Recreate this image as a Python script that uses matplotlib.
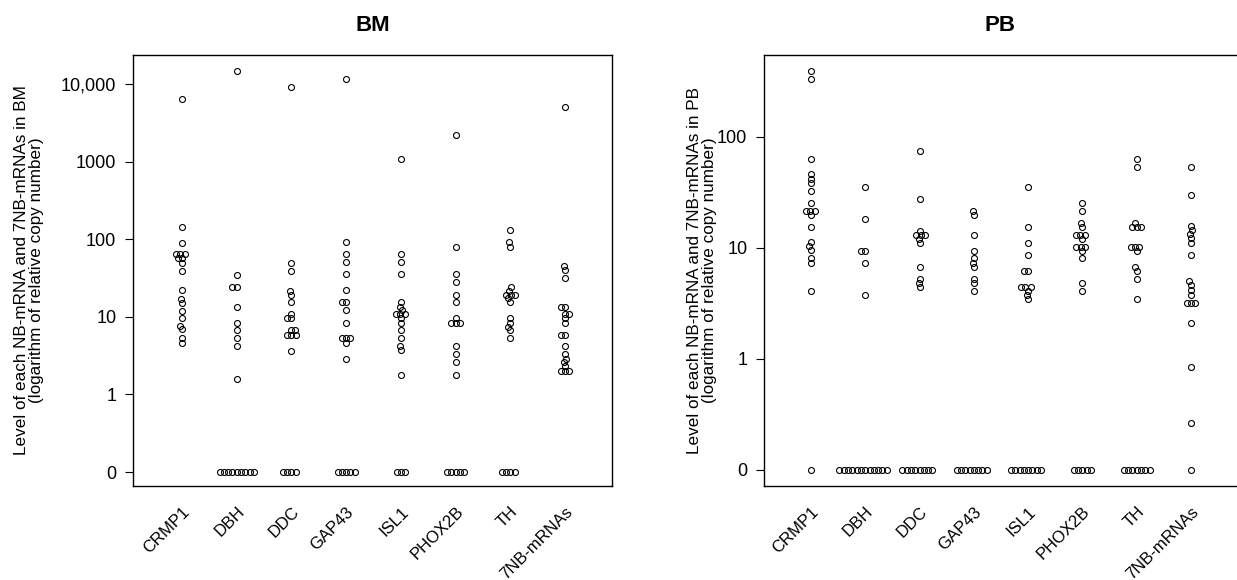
import numpy as np
import matplotlib
matplotlib.use('Agg')
import matplotlib.pyplot as plt

plt.rcParams['font.family'] = ['Liberation Sans', 'DejaVu Sans']

genes = ['CRMP1', 'DBH', 'DDC', 'GAP43', 'ISL1', 'PHOX2B', 'TH', '7NB-mRNAs']

# BM values (relative copy number, 0 = not detected)
bm_crmp1 = [6460, 146, 91, 64, 64, 64, 57, 57, 50, 39, 22, 17, 15, 12, 9.7, 7.7, 6.9, 5.4, 4.6]
bm_dbh = [14860, 35, 24.5, 24.5, 13.5, 8.4, 6.7, 5.3, 4.2, 1.6] + [0] * 9
bm_ddc = [9330, 50, 39.4, 21.8, 19.3, 15.4, 10.9, 9.6, 9.6, 6.7, 6.7, 5.9, 5.9, 5.9, 3.66] + [0] * 4
bm_gap43 = [11830, 91.5, 64, 50.5, 35.4, 22.2, 15.4, 15.4, 12.2, 8.4, 5.3, 5.3, 5.3, 4.6, 2.9] + [0] * 5
bm_isl1 = [1088, 64, 50.5, 35.4, 15.4, 13.5, 12.2, 10.9, 10.9, 10.9, 9.6, 8.4, 6.7, 5.3, 4.2, 3.7, 1.8] + [0] * 3
bm_phox2b = [2240, 80, 35.4, 27.9, 19.3, 15.4, 9.6, 8.4, 8.4, 8.4, 4.2, 3.3, 2.6, 1.8] + [0] * 5
bm_th = [131, 91.5, 80.7, 24.5, 21.8, 19.3, 19.3, 19.3, 17.3, 15.4, 9.6, 8.4, 7.5, 6.7, 5.3] + [0] * 4
bm_7nb = [5150, 44.9, 39.8, 31.4, 13.5, 13.5, 10.9, 10.9, 9.6, 8.4, 5.9, 5.9, 4.2, 3.3, 2.9, 2.6, 2.3, 2.0, 2.0, 2.0]

# PB values
pb_crmp1 = [392, 333, 63, 45.8, 41.9, 38.3, 32.5, 25.3, 21.4, 21.4, 21.4, 19.6, 15.4, 11.2, 10.3, 9.5, 8.0, 7.3, 4.1, 0]
pb_dbh = [35.3, 18.2, 9.3, 9.3, 7.3, 3.74] + [0] * 12
pb_ddc = [74.3, 27.5, 14.2, 13.0, 13.0, 13.0, 12.0, 11.0, 6.7, 5.25, 4.8, 4.4] + [0] * 8
pb_gap43 = [21.4, 19.6, 13.0, 9.4, 8.0, 7.3, 6.7, 5.25, 4.8, 4.1] + [0] * 8
pb_isl1 = [35.3, 15.4, 11.0, 8.6, 6.2, 6.2, 4.4, 4.4, 4.4, 4.1, 3.77, 3.47] + [0] * 8
pb_phox2b = [25.3, 21.4, 16.7, 15.4, 13.0, 13.0, 13.0, 12.0, 10.2, 10.2, 10.2, 9.4, 8.0, 4.8, 4.1] + [0] * 5
pb_th = [63, 53.3, 16.7, 15.4, 15.4, 15.4, 10.2, 10.2, 10.2, 9.4, 6.7, 6.2, 5.25, 3.47] + [0] * 7
pb_7nb = [53.3, 29.9, 15.8, 14.5, 13.4, 12.3, 11.0, 8.6, 4.96, 4.6, 4.2, 3.77, 3.19, 3.19, 3.19, 2.1, 0.84, 0.26, 0]

bm_data = [bm_crmp1, bm_dbh, bm_ddc, bm_gap43, bm_isl1, bm_phox2b, bm_th, bm_7nb]
pb_data = [pb_crmp1, pb_dbh, pb_ddc, pb_gap43, pb_isl1, pb_phox2b, pb_th, pb_7nb]

ZERO_POS = 0.1  # "0" is drawn one decade below 1
GAP = 4.3       # minimal distance between circle centres, pixels


def swarm(ypix):
    # place points as near the centre line as possible without overlapping
    xs = []
    ys = []
    for y in ypix:
        cands = [0.0]
        for xj, yj in zip(xs, ys):
            dy = abs(y - yj)
            if dy < GAP:
                dx = np.sqrt(GAP ** 2 - dy ** 2)
                cands += [xj - dx, xj + dx]
        cands.sort(key=lambda c: (abs(c), c))
        for c in cands:
            ok = True
            for xj, yj in zip(xs, ys):
                if (c - xj) ** 2 + (y - yj) ** 2 < GAP ** 2 - 1e-6:
                    ok = False
                    break
            if ok:
                xs.append(c)
                ys.append(y)
                break
    return np.array(xs)


def draw_panel(ax, data, title, ylabel, ylim, xlim, ticks, ticklabels, labelx):
    ax.set_yscale('log')
    ax.set_ylim(*ylim)
    ax.set_xlim(*xlim)
    for i, vals in enumerate(data):
        v = np.array([x if x > 0 else ZERO_POS for x in vals], dtype=float)
        order = np.argsort(v)
        v = v[order]
        pix = ax.transData.transform(np.column_stack([np.full(len(v), i + 1.0), v]))
        offs = swarm(pix[:, 1])
        pts = np.column_stack([pix[:, 0] + offs, pix[:, 1]])
        dat = ax.transData.inverted().transform(pts)
        ax.plot(dat[:, 0], v, 'o', ms=4.3, mfc='none', mec='black', mew=0.8, clip_on=False)

    ax.set_yticks(ticks)
    ax.set_yticklabels(ticklabels)
    ax.minorticks_off()
    ax.tick_params(axis='y', labelsize=13, length=6, width=0.8, pad=6)
    ax.set_xticks(range(1, len(genes) + 1))
    ax.set_xticklabels(genes, rotation=45, ha='right', rotation_mode='anchor')
    ax.tick_params(axis='x', labelsize=12, length=0, pad=13)
    ax.set_title(title, fontsize=16, fontweight='bold', pad=17)
    ax.set_ylabel(ylabel, fontsize=12.3, linespacing=1.0)
    ax.yaxis.set_label_coords(labelx, 0.5)
    for s in ax.spines.values():
        s.set_linewidth(1.0)


fig = plt.figure(figsize=(12.37, 5.8), dpi=100)
ax1 = fig.add_axes([133 / 1237, 1 - 486 / 580, 479 / 1237, 431 / 580])
ax2 = fig.add_axes([764 / 1237, 1 - 486 / 580, 472 / 1237, 431 / 580])

draw_panel(ax1, bm_data, 'BM',
           'Level of each NB-mRNA and 7NB-mRNAs in BM\n(logarithm of relative copy number)',
           (0.066, 23900), (0.104, 8.86),
           [ZERO_POS, 1, 10, 100, 1000, 10000], ['0', '1', '10', '100', '1000', '10,000'], -0.185)

draw_panel(ax2, pb_data, 'PB',
           'Level of each NB-mRNA and 7NB-mRNAs in PB\n(logarithm of relative copy number)',
           (0.071, 547), (0.134, 8.83),
           [ZERO_POS, 1, 10, 100], ['0', '1', '10', '100'], -0.1)
ax2.spines['right'].set_visible(False)

fig.savefig('out.png', dpi=100)
